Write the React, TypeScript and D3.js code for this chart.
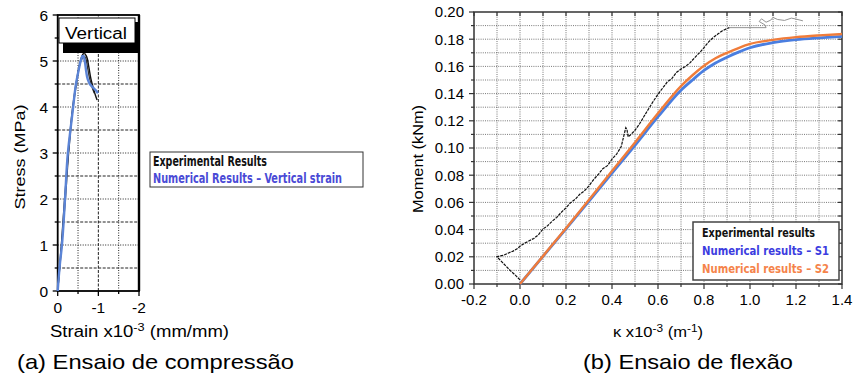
import React from "react";
import * as d3 from "d3";

// ---- (a) compression test ----
const stressTicks = [0, 1, 2, 3, 4, 5, 6];
const strainTicks = [0, -1, -2];

const numStrain = [0, -0.05, -0.1, -0.18, -0.25, -0.32, -0.38, -0.45, -0.52, -0.57, -0.61, -0.64, -0.67, -0.7, -0.74, -0.79, -0.85, -0.92, -0.99];
const numStress = [0, 0.55, 0.96, 2.0, 3.0, 3.55, 4.0, 4.5, 4.82, 5.02, 5.13, 5.1, 4.98, 4.78, 4.6, 4.5, 4.44, 4.38, 4.3];

const exp1Strain = [0, -0.09, -0.17, -0.26, -0.37, -0.47, -0.56, -0.62, -0.67, -0.71, -0.76, -0.82, -0.88, -0.93, -0.97];
const exp1Stress = [0, 1.0, 2.0, 3.0, 4.0, 4.6, 5.0, 5.15, 5.17, 5.1, 4.9, 4.6, 4.4, 4.25, 4.15];
const exp2Strain = [0, -0.1, -0.19, -0.27, -0.38, -0.48, -0.57, -0.63, -0.68, -0.73, -0.79, -0.85, -0.9];
const exp2Stress = [0, 1.0, 2.0, 3.0, 4.0, 4.6, 5.0, 5.12, 5.08, 4.88, 4.6, 4.42, 4.3];

// ---- (b) bending test ----
const kappaTicks = [-0.2, 0.0, 0.2, 0.4, 0.6, 0.8, 1.0, 1.2, 1.4];
const momentTicks = [0, 0.02, 0.04, 0.06, 0.08, 0.1, 0.12, 0.14, 0.16, 0.18, 0.2];

const numKappa = [0, 0.1, 0.2, 0.3, 0.4, 0.5, 0.6, 0.7, 0.75, 0.8, 0.85, 0.9, 0.95, 1.0, 1.1, 1.2, 1.3, 1.4];
const s2Moment = [0, 0.0205, 0.041, 0.062, 0.083, 0.104, 0.1255, 0.1455, 0.1535, 0.1605, 0.166, 0.17, 0.1735, 0.1765, 0.1795, 0.1815, 0.1828, 0.1838];
const s1Moment = [0, 0.0203, 0.0405, 0.061, 0.0815, 0.102, 0.123, 0.1425, 0.15, 0.157, 0.1625, 0.1668, 0.1705, 0.1737, 0.1775, 0.1797, 0.181, 0.182];

const expKappa = [0.0, -0.02, -0.04, -0.06, -0.08, -0.1, -0.09, -0.07, -0.05, -0.03, -0.01, 0.0, 0.02, 0.04, 0.06, 0.08, 0.1, 0.12, 0.14, 0.16, 0.18, 0.2, 0.22, 0.24, 0.26, 0.28, 0.3, 0.32, 0.34, 0.36, 0.38, 0.4, 0.42, 0.44, 0.45, 0.46, 0.465, 0.47, 0.48, 0.5, 0.52, 0.54, 0.56, 0.58, 0.6, 0.62, 0.64, 0.66, 0.68, 0.7, 0.72, 0.74, 0.76, 0.78, 0.8, 0.82, 0.84, 0.86, 0.88, 0.9, 0.91];
const expMoment = [0.003, 0.0065, 0.0095, 0.013, 0.0165, 0.02, 0.0205, 0.0212, 0.0228, 0.0242, 0.0262, 0.0278, 0.03, 0.0318, 0.0335, 0.0362, 0.0405, 0.0428, 0.0462, 0.049, 0.0528, 0.056, 0.0598, 0.0622, 0.066, 0.0685, 0.0722, 0.0768, 0.0805, 0.0848, 0.087, 0.0918, 0.0955, 0.101, 0.108, 0.115, 0.1138, 0.1082, 0.1095, 0.113, 0.1178, 0.1235, 0.129, 0.1345, 0.1395, 0.144, 0.1485, 0.151, 0.1555, 0.158, 0.16, 0.1628, 0.1665, 0.17, 0.1738, 0.178, 0.1812, 0.1838, 0.1862, 0.1878, 0.1885];
const tailKappa = [0.91, 1.07, 1.065, 1.04, 1.05, 1.07, 1.09, 1.1, 1.12, 1.15, 1.18, 1.2, 1.23];
const tailMoment = [0.1885, 0.1885, 0.1905, 0.193, 0.195, 0.1925, 0.194, 0.196, 0.1945, 0.1938, 0.1955, 0.1948, 0.1935];

const ARIAL = "'Liberation Sans', Arial, sans-serif";
const NARROW = "'Liberation Sans Narrow', 'DejaVu Sans Condensed', sans-serif";

function CompressionChart() {
  const x = d3.scaleLinear().domain([0, -2]).range([57.7, 139]);
  const y = d3.scaleLinear().domain([0, 6]).range([291, 15]);
  const line = (xs: number[], ys: number[]) =>
    d3.line<number>().x((d, i) => x(xs[i])).y((d) => y(d)).curve(d3.curveMonotoneY)(ys) || "";
  const halfX = d3.range(-0.5, -2, -0.5);
  const halfY = d3.range(0.5, 6, 0.5);

  return (
    <g>
      {halfY.map((v) => (
        <line key={"gy" + v} x1={x(0)} x2={x(-2)} y1={y(v)} y2={y(v)}
          stroke="#222" strokeWidth={1} strokeDasharray={v % 1 ? "3,1.5" : "1,1.5"} />
      ))}
      {halfX.map((v) => (
        <line key={"gx" + v} x1={x(v)} x2={x(v)} y1={y(0)} y2={y(6)}
          stroke="#222" strokeWidth={1} strokeDasharray={v % 1 ? "1,1.5" : "3,1.5"} />
      ))}
      {/* ticks */}
      {d3.range(0, 6.01, 0.5).map((v) => (
        <line key={"ty" + v} x1={x(0)} x2={x(0) - (v % 1 ? 3 : 5)} y1={y(v)} y2={y(v)} stroke="#000" strokeWidth={1.3} />
      ))}
      {d3.range(0, -2.01, -0.5).map((v) => (
        <line key={"tx" + v} x1={x(v)} x2={x(v)} y1={y(0)} y2={y(0) + (v % 1 ? 3 : 5)} stroke="#000" strokeWidth={1.3} />
      ))}
      <rect x={x(0)} y={y(6)} width={x(-2) - x(0)} height={y(0) - y(6)} fill="none" stroke="#000" strokeWidth={1.8} />
      <line x1={x(-2)} x2={x(-2)} y1={y(6)} y2={y(0)} stroke="#000" strokeWidth={2.4} />

      {/* curves */}
      <path d={line(exp2Strain, exp2Stress)} fill="none" stroke="#333" strokeWidth={1.3} />
      <path d={line(exp1Strain, exp1Stress)} fill="none" stroke="#111" strokeWidth={1.4} />
      <path d={line(numStrain, numStress)} fill="none" stroke="#5b84d6" strokeWidth={2.4} />

      {/* Vertical label box */}
      <rect x={63} y={22} width={76} height={31} fill="#000" />
      <rect x={59} y={18} width={76} height={25} fill="#fff" stroke="#000" strokeWidth={1} />
      <text x={65} y={39} fontFamily={ARIAL} fontSize={16} textLength={62} lengthAdjust="spacingAndGlyphs">Vertical</text>

      {/* tick labels */}
      {stressTicks.map((v) => (
        <text key={"ly" + v} x={48} y={y(v)} dy="0.36em" textAnchor="end" fontFamily={ARIAL} fontSize={15.5}>{v}</text>
      ))}
      {strainTicks.map((v) => (
        <text key={"lx" + v} x={x(v)} y={313} textAnchor="middle" fontFamily={ARIAL} fontSize={15.5}>{v}</text>
      ))}
      <text transform="translate(25,157) rotate(-90)" textAnchor="middle" fontFamily={ARIAL} fontSize={15.5} textLength={105} lengthAdjust="spacingAndGlyphs">Stress (MPa)</text>
      <text x={50} y={337} fontFamily={ARIAL} fontSize={16} textLength={179} lengthAdjust="spacingAndGlyphs">
        Strain x10<tspan dy={-6} fontSize={11}>-3</tspan><tspan dy={6}> (mm/mm)</tspan>
      </text>

      {/* legend */}
      <rect x={150} y={152} width={213} height={35} fill="#fff" stroke="#333" strokeWidth={1} />
      <text x={153} y={166} fontFamily={NARROW} fontWeight="bold" fontSize={13.5} fill="#111" textLength={114} lengthAdjust="spacingAndGlyphs">Experimental Results</text>
      <text x={153} y={183} fontFamily={NARROW} fontWeight="bold" fontSize={13.5} fill="#4a4ad6" textLength={189} lengthAdjust="spacingAndGlyphs">Numerical Results – Vertical strain</text>

      <text x={17} y={369} fontFamily={ARIAL} fontSize={21} textLength={277} lengthAdjust="spacingAndGlyphs">(a) Ensaio de compressão</text>
    </g>
  );
}

function BendingChart() {
  const x = d3.scaleLinear().domain([-0.2, 1.4]).range([474, 842]);
  const y = d3.scaleLinear().domain([0, 0.2]).range([284, 12]);
  const line = (xs: number[], ys: number[], curve = d3.curveLinear) =>
    d3.line<number>().x((d, i) => x(xs[i])).y((d) => y(d)).curve(curve)(ys) || "";
  const gridX = d3.range(-0.1, 1.35, 0.1);
  const gridY = d3.range(0.01, 0.195, 0.01);
  const allX = d3.range(-0.2, 1.45, 0.1);
  const allY = d3.range(0, 0.2001, 0.01);
  const isMajorX = (v: number) => Math.abs(Math.round(v * 5) - v * 5) < 1e-6;
  const isMajorY = (v: number) => Math.abs(Math.round(v * 50) - v * 50) < 1e-6;

  return (
    <g>
      {gridY.map((v) => (
        <line key={"gy" + v} x1={x(-0.2)} x2={x(1.4)} y1={y(v)} y2={y(v)} stroke="#555" strokeWidth={0.8} strokeDasharray="1,1.2" />
      ))}
      {gridX.map((v) => (
        <line key={"gx" + v} x1={x(v)} x2={x(v)} y1={y(0)} y2={y(0.2)} stroke="#555" strokeWidth={0.8} strokeDasharray="1,1.2" />
      ))}
      {allY.map((v) => (
        <g key={"ty" + v}>
          <line x1={x(-0.2)} x2={x(-0.2) - (isMajorY(v) ? 5 : 3)} y1={y(v)} y2={y(v)} stroke="#333" strokeWidth={1.2} />
          <line x1={x(1.4)} x2={x(1.4) - 4} y1={y(v)} y2={y(v)} stroke="#333" strokeWidth={1.2} />
        </g>
      ))}
      {allX.map((v) => (
        <g key={"tx" + v}>
          <line x1={x(v)} x2={x(v)} y1={y(0)} y2={y(0) + (isMajorX(v) ? 5 : 3)} stroke="#333" strokeWidth={1.2} />
          <line x1={x(v)} x2={x(v)} y1={y(0.2)} y2={y(0.2) + 4} stroke="#333" strokeWidth={1.2} />
        </g>
      ))}
      <rect x={x(-0.2)} y={y(0.2)} width={x(1.4) - x(-0.2)} height={y(0) - y(0.2)} fill="none" stroke="#333" strokeWidth={1.5} />

      {/* experimental */}
      <path d={line(tailKappa, tailMoment)} fill="none" stroke="#888" strokeWidth={0.9} />
      <path d={line(expKappa, expMoment)} fill="none" stroke="#111" strokeWidth={1.2} strokeDasharray="3,1" />
      {/* numerical */}
      <path d={line(numKappa, s1Moment, d3.curveMonotoneX)} fill="none" stroke="#4a7ee0" strokeWidth={2.8} />
      <path d={line(numKappa, s2Moment, d3.curveMonotoneX)} fill="none" stroke="#f07c3a" strokeWidth={2.4} />

      {/* tick labels */}
      {momentTicks.map((v) => (
        <text key={"ly" + v} x={464} y={y(v)} dy="0.36em" textAnchor="end" fontFamily={ARIAL} fontSize={15}>{v.toFixed(2)}</text>
      ))}
      {kappaTicks.map((v) => (
        <text key={"lx" + v} x={x(v)} y={305} textAnchor="middle" fontFamily={ARIAL} fontSize={15}>{v.toFixed(1)}</text>
      ))}
      <text transform="translate(423,159) rotate(-90)" textAnchor="middle" fontFamily={ARIAL} fontSize={15.5} textLength={108} lengthAdjust="spacingAndGlyphs">Moment (kNm)</text>
      <text x={613} y={337} fontFamily={ARIAL} fontSize={14} textLength={90} lengthAdjust="spacingAndGlyphs">
        κ x10<tspan dy={-5} fontSize={10}>-3</tspan><tspan dy={5}> (m</tspan><tspan dy={-5} fontSize={10}>-1</tspan><tspan dy={5}>)</tspan>
      </text>

      {/* legend */}
      <rect x={693} y={222} width={146} height={58} fill="#fff" stroke="#444" strokeWidth={1.5} />
      <text x={702} y={237} fontFamily={NARROW} fontWeight="bold" fontSize={12.5} fill="#111" textLength={113} lengthAdjust="spacingAndGlyphs">Experimental results</text>
      <text x={702} y={255} fontFamily={NARROW} fontWeight="bold" fontSize={12.5} fill="#3c3ce0" textLength={127} lengthAdjust="spacingAndGlyphs">Numerical results – S1</text>
      <text x={702} y={273} fontFamily={NARROW} fontWeight="bold" fontSize={12.5} fill="#f5834a" textLength={127} lengthAdjust="spacingAndGlyphs">Numerical results – S2</text>

      <text x={583} y={369} fontFamily={ARIAL} fontSize={21} textLength={210} lengthAdjust="spacingAndGlyphs">(b) Ensaio de flexão</text>
    </g>
  );
}

export default function App() {
  return (
    <svg width={855} height={380} style={{ position: "absolute", left: 0, top: 0, background: "#fff" }}>
      <rect width={855} height={380} fill="#fff" />
      <CompressionChart />
      <BendingChart />
    </svg>
  );
}
